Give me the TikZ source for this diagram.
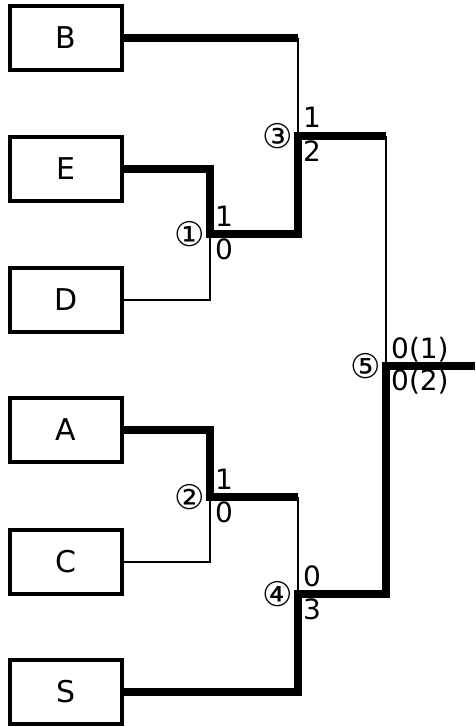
\documentclass[tikz,border=0pt]{standalone}
\usepackage{fontspec}
\setmainfont{DejaVu Sans}
\usetikzlibrary{positioning}

\tikzset{
  team/.style={draw, line width=4pt, minimum width=112pt, minimum height=64pt,
    inner sep=0pt, font=\fontsize{30}{32}\selectfont},
  won/.style={line width=7.5pt, line join=miter},
  lost/.style={line width=2.5pt},
  num/.style={inner sep=0pt, font=\fontsize{34}{36}\selectfont},
  scoreup/.style={anchor=base west, inner sep=0pt, font=\fontsize{28}{30}\selectfont},
  scoredown/.style={anchor=north west, inner sep=0pt, font=\fontsize{28}{30}\selectfont}
}

\begin{document}
\begin{tikzpicture}[x=1pt, y=-1pt]
            \useasboundingbox (0,0) rectangle (475,727);

            \node[team] (B) at (66,38) {B};
            \node[team] (E) at (66,169) {E};
            \node[team] (D) at (66,300) {D};
            \node[team] (A) at (66,430) {A};
            \node[team] (C) at (66,562) {C};
            \node[team] (S) at (66,692) {S};

            \coordinate (m1) at (210,234);
            \coordinate (m2) at (210,497);
            \coordinate (m3) at (298,136);
            \coordinate (m4) at (298,594);
            \coordinate (m5) at (386,366);
            \coordinate (champ) at (475,366);

            % losers
            \draw[lost] (D.east) -| (m1);
            \draw[lost] (C.east) -| (m2);
            \draw[lost] (B.east -| m3) -- (m3);
            \draw[lost] (m2 -| m4) -- (m4);
            \draw[lost] (m3 -| m5) -- (m5);

            % winners
            \draw[won] (B.east) -- (B.east -| m3);
            \draw[won] (E.east) -| (m1) -| (m3) -- (m3 -| m5);
            \draw[won] (A.east) -| (m2) -- (m2 -| m4);
            \draw[won] (S.east) -| (m4) -| (m5) -- (champ);

            \node[num, left=5pt of m1] (n1) {①};
            \node[num, left=5pt of m2] (n2) {②};
            \node[num, left=5pt of m3] (n3) {③};
            \node[num, left=5pt of m4] (n4) {④};
            \node[num, left=5pt of m5] (n5) {⑤};

            \node[scoreup] (s1a) at ([shift={(5,-8)}]m1) {1};
            \node[scoredown] (s1b) at ([shift={(5,5)}]m1) {0};
            \node[scoreup] (s2a) at ([shift={(5,-8)}]m2) {1};
            \node[scoredown] (s2b) at ([shift={(5,5)}]m2) {0};
            \node[scoreup] (s3a) at ([shift={(5,-8)}]m3) {1};
            \node[scoredown] (s3b) at ([shift={(5,5)}]m3) {2};
            \node[scoreup] (s4a) at ([shift={(5,-8)}]m4) {0};
            \node[scoredown] (s4b) at ([shift={(5,5)}]m4) {3};
            \node[scoreup] (s5a) at ([shift={(5,-8)}]m5) {0(1)};
            \node[scoredown] (s5b) at ([shift={(5,3)}]m5) {0(2)};
        \end{tikzpicture}
\end{document}
